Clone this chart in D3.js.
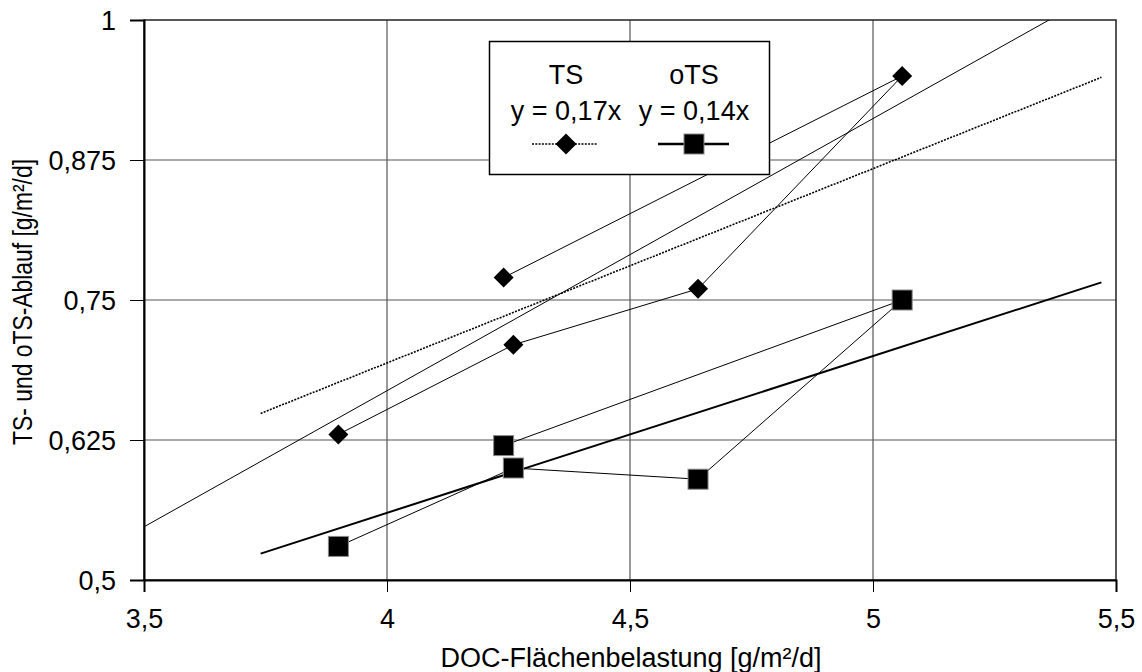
<!DOCTYPE html>
<html>
<head>
<meta charset="utf-8">
<script src="https://cdn.jsdelivr.net/npm/d3@7"></script>
<style>
  html, body { margin: 0; padding: 0; background: #fff; }
  svg { display: block; font-family: "Liberation Sans", Arial, sans-serif; }
</style>
</head>
<body>
<svg id="chart" width="1142" height="672"></svg>
<script>
// DOC surface load per sample (g/m²/d), in measurement order
const docLoad = [4.24, 5.06, 4.64, 4.26, 3.90];
// Effluent loads (g/m²/d)
const tsValues  = [0.77, 0.95, 0.76, 0.71, 0.63];
const otsValues = [0.62, 0.75, 0.59, 0.60, 0.53];

// linear TS trend with intercept: [intercept, slope]
const tsLinearTrend = [-0.303, 0.243];

const xTicks = [3.5, 4, 4.5, 5, 5.5];
const yTicks = [0.5, 0.625, 0.75, 0.875, 1];
const trendRange = [3.74, 5.47];

const fmt = v => String(v).replace(".", ",");
const FONT = 27;

const svg = d3.select("#chart");
const margin = { left: 144, right: 1116, top: 20, bottom: 580 };

const x = d3.scaleLinear().domain([3.5, 5.5]).range([margin.left, margin.right]);
const y = d3.scaleLinear().domain([0.5, 1]).range([margin.bottom, margin.top]);

// regression through the origin: y = b·x
function slopeThroughOrigin(xs, ys) {
  return d3.sum(xs, (v, i) => v * ys[i]) / d3.sum(xs, v => v * v);
}
const tsSlope = slopeThroughOrigin(docLoad, tsValues);
const otsSlope = slopeThroughOrigin(docLoad, otsValues);

// gridlines
const grid = svg.append("g");
grid.selectAll("line.gx").data(xTicks.slice(1, -1)).join("line")
  .attr("x1", d => x(d)).attr("x2", d => x(d))
  .attr("y1", margin.top).attr("y2", margin.bottom)
  .attr("stroke", "#555").attr("stroke-width", 1.2);
grid.selectAll("line.gy").data(yTicks.slice(1, -1)).join("line")
  .attr("y1", d => y(d)).attr("y2", d => y(d))
  .attr("x1", margin.left).attr("x2", margin.right)
  .attr("stroke", "#555").attr("stroke-width", 1.2);

// plot frame
svg.append("rect")
  .attr("x", margin.left).attr("y", margin.top)
  .attr("width", margin.right - margin.left).attr("height", margin.bottom - margin.top)
  .attr("fill", "none").attr("stroke", "#222").attr("stroke-width", 1.5);

// axes
const xAxis = d3.axisBottom(x).tickValues(xTicks).tickFormat(fmt).tickSize(12).tickPadding(17);
const yAxis = d3.axisLeft(y).tickValues(yTicks).tickFormat(fmt).tickSize(14).tickPadding(14);

const gx = svg.append("g").attr("transform", `translate(0,${margin.bottom})`).call(xAxis);
const gy = svg.append("g").attr("transform", `translate(${margin.left},0)`).call(yAxis);
[gx, gy].forEach(g => {
  g.select(".domain").attr("stroke", "#000").attr("stroke-width", 2);
  g.selectAll(".tick line").attr("stroke", "#000").attr("stroke-width", 1);
  g.selectAll("text").attr("font-size", FONT).attr("fill", "#000")
    .attr("font-family", "'Liberation Sans', Arial, sans-serif");
});
gy.selectAll("text").attr("dy", "0.35em");

// axis titles
svg.append("text")
  .attr("x", 631).attr("y", 667).attr("text-anchor", "middle")
  .attr("font-size", FONT).text("DOC-Flächenbelastung [g/m²/d]");
svg.append("text")
  .attr("transform", "translate(32,302) rotate(-90)").attr("text-anchor", "middle")
  .attr("font-size", 27).attr("textLength", 286).attr("lengthAdjust", "spacingAndGlyphs")
  .text("TS- und oTS-Ablauf [g/m²/d]");

const plot = svg.append("g");
svg.append("clipPath").attr("id", "plotClip").append("rect")
  .attr("x", margin.left).attr("y", margin.top)
  .attr("width", margin.right - margin.left).attr("height", margin.bottom - margin.top);

// linear TS trend across the whole plot
const trendY = v => tsLinearTrend[0] + tsLinearTrend[1] * v;
plot.append("line")
  .attr("clip-path", "url(#plotClip)")
  .attr("x1", x(3.5)).attr("y1", y(trendY(3.5)))
  .attr("x2", x(5.5)).attr("y2", y(trendY(5.5)))
  .attr("stroke", "#000").attr("stroke-width", 1);

// trendlines through the origin
plot.append("line")
  .attr("x1", x(trendRange[0])).attr("y1", y(tsSlope * trendRange[0]))
  .attr("x2", x(trendRange[1])).attr("y2", y(tsSlope * trendRange[1]))
  .attr("stroke", "#000").attr("stroke-width", 1.6).attr("stroke-dasharray", "2,1.3");
plot.append("line")
  .attr("x1", x(trendRange[0])).attr("y1", y(otsSlope * trendRange[0]))
  .attr("x2", x(trendRange[1])).attr("y2", y(otsSlope * trendRange[1]))
  .attr("stroke", "#000").attr("stroke-width", 2);

// series polylines in measurement order
const line = d3.line().x(d => x(d[0])).y(d => y(d[1]));
const tsPts = docLoad.map((v, i) => [v, tsValues[i]]);
const otsPts = docLoad.map((v, i) => [v, otsValues[i]]);
plot.append("path").attr("d", line(tsPts)).attr("fill", "none").attr("stroke", "#000").attr("stroke-width", 1);
plot.append("path").attr("d", line(otsPts)).attr("fill", "none").attr("stroke", "#000").attr("stroke-width", 1);

// markers
const diamond = (cx, cy, r) => `M${cx},${cy - r}L${cx + r},${cy}L${cx},${cy + r}L${cx - r},${cy}Z`;
plot.selectAll("path.ts").data(tsPts).join("path")
  .attr("d", d => diamond(x(d[0]), y(d[1]), 10)).attr("fill", "#000");
plot.selectAll("rect.ots").data(otsPts).join("rect")
  .attr("x", d => x(d[0]) - 10).attr("y", d => y(d[1]) - 10)
  .attr("width", 20).attr("height", 20)
  .attr("fill", "#000").attr("stroke", "#888").attr("stroke-width", 1);

// legend
const lg = svg.append("g");
lg.append("rect").attr("x", 489.5).attr("y", 41.5).attr("width", 280).attr("height", 133)
  .attr("fill", "#fff").attr("stroke", "#000").attr("stroke-width", 1.5);
const legendItems = [
  { name: "TS", slope: tsSlope, cx: 566 },
  { name: "oTS", slope: otsSlope, cx: 694 }
];
legendItems.forEach(it => {
  lg.append("text").attr("x", it.cx).attr("y", 84).attr("text-anchor", "middle")
    .attr("font-size", FONT).text(it.name);
  lg.append("text").attr("x", it.cx).attr("y", 120).attr("text-anchor", "middle")
    .attr("font-size", FONT).text(`y = ${it.slope.toFixed(2).replace(".", ",")}x`);
});
lg.append("line").attr("x1", 532).attr("x2", 598).attr("y1", 144).attr("y2", 144)
  .attr("stroke", "#000").attr("stroke-width", 1.6).attr("stroke-dasharray", "2,1.3");
lg.append("path").attr("d", diamond(566, 144, 10.5)).attr("fill", "#000");
lg.append("line").attr("x1", 658).attr("x2", 729).attr("y1", 144).attr("y2", 144)
  .attr("stroke", "#000").attr("stroke-width", 2.5);
lg.append("rect").attr("x", 684).attr("y", 134).attr("width", 20).attr("height", 20)
  .attr("fill", "#000").attr("stroke", "#888").attr("stroke-width", 1);
</script>
</body>
</html>
